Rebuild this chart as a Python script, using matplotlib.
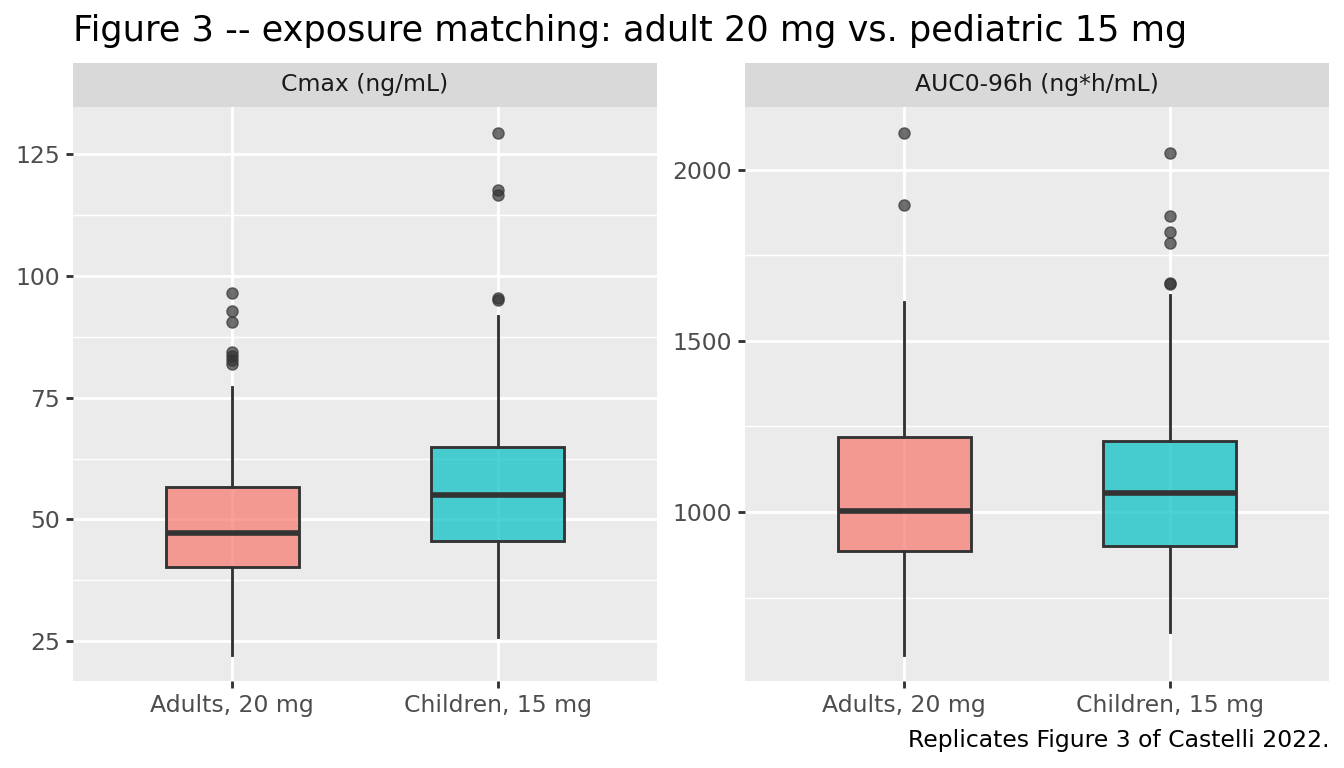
import matplotlib
matplotlib.use("Agg")
import matplotlib.pyplot as plt

groups = ["Adults, 20 mg", "Children, 15 mg"]
fills = ["#F8766D", "#00BFC4"]

# box stats: whislo, q1, med, q3, whishi
cmax_stats = [
    [22.1, 40.2, 47.1, 56.6, 77.2],
    [25.8, 45.5, 55.0, 64.8, 91.7],
]
cmax_out = [
    [96.5, 92.8, 90.5, 84.3, 83.5, 82.7, 81.9],
    [129.3, 117.6, 116.6, 95.4, 95.0],
]
auc_stats = [
    [582, 886, 1003, 1219, 1614],
    [649, 901, 1056, 1208, 1634],
]
auc_out = [
    [2108, 1898],
    [2050, 1866, 1819, 1787, 1670, 1668],
]

panels = [
    ("Cmax (ng/mL)", cmax_stats, cmax_out, (16.8, 134.7), [25, 50, 75, 100, 125],
     [37.5, 62.5, 87.5, 112.5]),
    ("AUC0-96h (ng*h/mL)", auc_stats, auc_out, (506, 2184), [1000, 1500, 2000],
     [750, 1250, 1750]),
]

fig = plt.figure(figsize=(7, 4), dpi=192)
W, H = 1344, 768
lefts = [73, 745]
pw = 584

for (strip, stats, outs, ylim, ticks, minor), left in zip(panels, lefts):
    ax = fig.add_axes([left / W, 1 - 681 / H, pw / W, 574 / H])
    ax.set_facecolor("#EBEBEB")
    for s in ax.spines.values():
        s.set_visible(False)
    ax.set_xlim(0.4, 2.6)
    ax.set_ylim(*ylim)
    for m in minor:
        ax.axhline(m, color="white", lw=0.55, zorder=0)
    for t in ticks:
        ax.axhline(t, color="white", lw=1.07, zorder=0)
    for x in (1, 2):
        ax.axvline(x, color="white", lw=1.07, zorder=0)

    bstats = []
    for st, out, lab in zip(stats, outs, groups):
        bstats.append(dict(whislo=st[0], q1=st[1], med=st[2], q3=st[3],
                           whishi=st[4], fliers=out, label=lab))
    bp = ax.bxp(bstats, positions=[1, 2], widths=0.5, patch_artist=True,
                showcaps=False,
                boxprops=dict(edgecolor="#333333", linewidth=1.07),
                whiskerprops=dict(color="#333333", linewidth=1.07),
                medianprops=dict(color="#333333", linewidth=2.1),
                flierprops=dict(marker="o", markersize=4.2, markerfacecolor="#333333",
                                markeredgecolor="#333333", alpha=0.7, markeredgewidth=0.5))
    for patch, c in zip(bp["boxes"], fills):
        patch.set_facecolor(c)
        patch.set_alpha(None)
        patch.set_facecolor(matplotlib.colors.to_rgba(c, 0.7))

    ax.set_yticks(ticks)
    ax.set_xticks([1, 2])
    ax.set_xticklabels(groups)
    ax.tick_params(colors="#333333", length=2.75, width=1.07, labelsize=8.8,
                   labelcolor="#4D4D4D", pad=2.2)

    sax = fig.add_axes([left / W, 1 - 107 / H, pw / W, 44 / H])
    sax.set_facecolor("#D9D9D9")
    sax.set_xticks([])
    sax.set_yticks([])
    for s in sax.spines.values():
        s.set_visible(False)
    sax.text(0.5, 0.5, strip, ha="center", va="center", fontsize=8.8,
             color="#1A1A1A", transform=sax.transAxes)

fig.text(73 / W, 1 - 31 / H, "Figure 3 -- exposure matching: adult 20 mg vs. pediatric 15 mg",
         ha="left", va="center", fontsize=13.2, color="black")
fig.text(1329 / W, 1 - 740 / H, "Replicates Figure 3 of Castelli 2022.",
         ha="right", va="center", fontsize=8.8, color="black")

fig.savefig("out.png", dpi=192)
